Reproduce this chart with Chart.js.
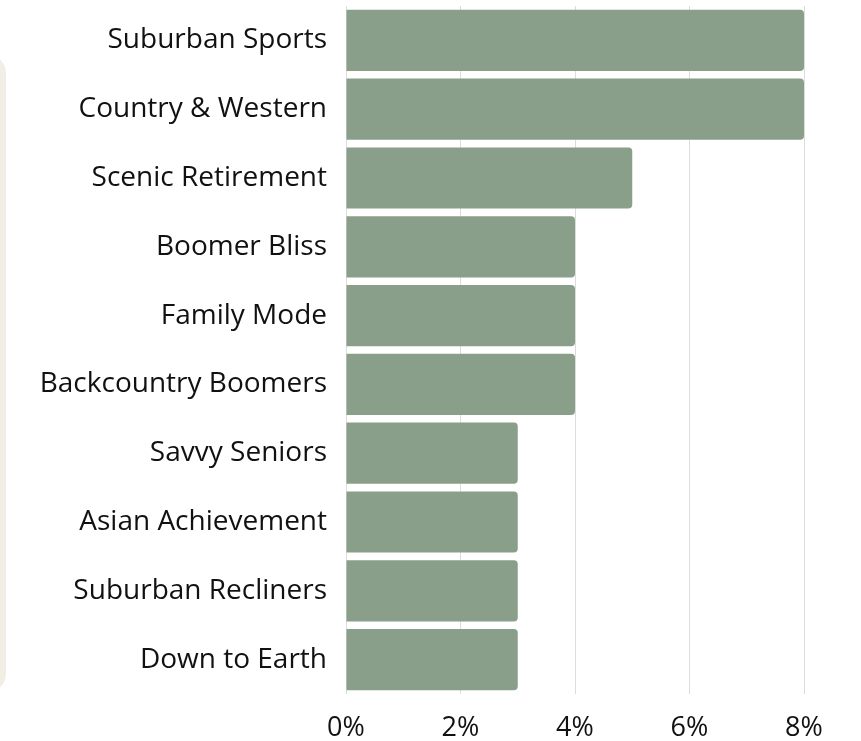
<!DOCTYPE html>
<html>
<head>
<meta charset="utf-8">
<script src="https://cdn.jsdelivr.net/npm/chart.js@4"></script>
<style>
  html, body { margin: 0; padding: 0; background: #fff; overflow: hidden; }
  #wrap { position: relative; width: 861px; height: 741px; }
  #panel {
    position: absolute; left: -30px; top: 55px; width: 36px; height: 637px;
    background: #f3eee5; border-radius: 30px;
  }
  #chart { position: absolute; left: 0; top: 0; }
</style>
</head>
<body>
<div id="wrap">
  <div id="panel"></div>
  <canvas id="chart" width="861" height="741"></canvas>
</div>
<script>
const segments = [
  "Suburban Sports", "Country & Western", "Scenic Retirement", "Boomer Bliss",
  "Family Mode", "Backcountry Boomers", "Savvy Seniors", "Asian Achievement",
  "Suburban Recliners", "Down to Earth"
];
const shares = [8, 8, 5, 4, 4, 4, 3, 3, 3, 3];
const xTicks = [0, 2, 4, 6, 8];

const ctx = document.getElementById("chart").getContext("2d");
new Chart(ctx, {
  type: "bar",
  data: {
    labels: segments,
    datasets: [
      {
        data: shares,
        backgroundColor: "#8a9f8a",
        borderWidth: 0,
        borderRadius: { topLeft: 0, bottomLeft: 0, topRight: 4, bottomRight: 4 },
        borderSkipped: false,
        categoryPercentage: 1,
        barPercentage: 0.89,
      },
    ],
  },
  options: {
    indexAxis: "y",
    responsive: false,
    animation: false,
    layout: { padding: { top: 6, right: 57, left: 0, bottom: 0 } },
    plugins: { legend: { display: false }, tooltip: { enabled: false } },
    scales: {
      x: {
        min: 0,
        max: 8,
        afterBuildTicks: (s) => { s.ticks = xTicks.map((v) => ({ value: v })); },
        afterFit: (s) => {
          s.height = 47;
          s.paddingLeft = 0; s.paddingRight = 0;
        },
        grid: { color: "#dcdcdc", drawTicks: false },
        border: { display: false },
        ticks: {
          padding: 18,
          color: "#111",
          font: { family: "Open Sans", size: 27 },
          callback: (v) => v + "%",
        },
      },
      y: {
        afterFit: (s) => {
          s.width = 346;
          s.paddingTop = 0; s.paddingBottom = 0;
        },
        grid: { display: false, drawTicks: false },
        border: { display: false },
        ticks: {
          padding: 19,
          color: "#111",
          font: { family: "Open Sans", size: 28 },
        },
      },
    },
  },
});
</script>
</body>
</html>
